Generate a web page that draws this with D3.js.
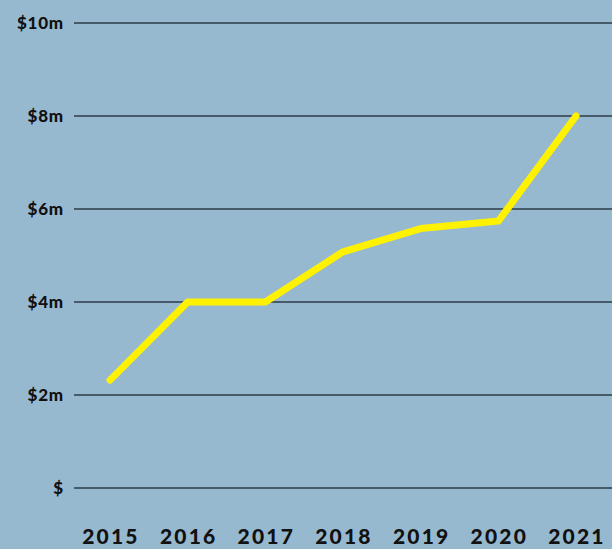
<!DOCTYPE html>
<html>
<head>
<meta charset="utf-8">
<script src="https://cdn.jsdelivr.net/npm/d3@7"></script>
<style>
  body { margin: 0; background: #97b9d0; }
  text { font-family: Lato, "DejaVu Sans", sans-serif; font-weight: 900; fill: #111; }
</style>
</head>
<body>
<div id="chart"></div>
<script>
// chart data
var years = ["2015", "2016", "2017", "2018", "2019", "2020", "2021"];
var revenue = [2.32, 4.0, 4.0, 5.08, 5.58, 5.74, 8.0];   // $ millions
var yTicks = [0, 2, 4, 6, 8, 10];

var width = 612, height = 549;
var margin = {top: 23, right: 0, bottom: 61, left: 74};

var svg = d3.select("#chart").append("svg")
    .attr("width", width)
    .attr("height", height);

svg.append("rect")
    .attr("width", width).attr("height", height)
    .attr("fill", "#97b9d0");

var x = d3.scalePoint()
    .domain(years)
    .range([110, 576]);

var y = d3.scaleLinear()
    .domain([0, 10])
    .range([height - margin.bottom, margin.top]);

// gridlines
svg.append("g").selectAll("line")
    .data(yTicks)
    .enter().append("line")
    .attr("x1", margin.left)
    .attr("x2", width)
    .attr("y1", function(d){ return y(d); })
    .attr("y2", function(d){ return y(d); })
    .style("stroke", "#2d3b47")
    .style("stroke-width", "1.3px");

// y labels
svg.append("g").selectAll("text")
    .data(yTicks)
    .enter().append("text")
    .attr("x", 64)
    .attr("y", function(d){ return y(d); })
    .attr("dy", "0.35em")
    .attr("text-anchor", "end")
    .style("font-size", "17px")
    .style("letter-spacing", "0.8px")
    .text(function(d){ return d === 0 ? "$" : "$" + d + "m"; });

// x labels
svg.append("g").selectAll("text")
    .data(years)
    .enter().append("text")
    .attr("x", function(d){ return x(d) + 1; })
    .attr("y", 537)
    .attr("dy", "0.35em")
    .attr("text-anchor", "middle")
    .style("font-size", "21px")
    .style("letter-spacing", "2.2px")
    .text(function(d){ return d; });

// the line
var line = d3.line()
    .x(function(d, i){ return x(years[i]); })
    .y(function(d){ return y(d); });

svg.append("path")
    .datum(revenue)
    .attr("d", line)
    .style("fill", "none")
    .style("stroke", "#fff200")
    .style("stroke-width", "7px")
    .style("stroke-linecap", "round")
    .style("stroke-linejoin", "round");
</script>
</body>
</html>
